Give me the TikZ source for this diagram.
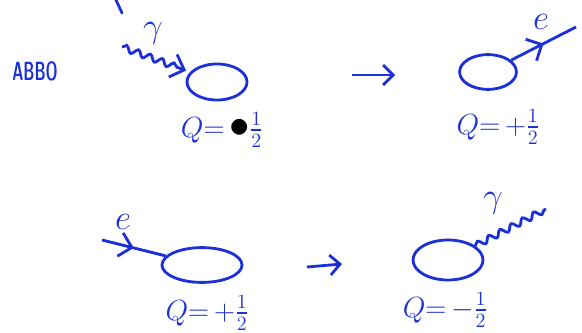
\documentclass[tikz,border=0pt]{standalone}
\usepackage{amsmath,amssymb}
\usepackage{xcolor}
\usetikzlibrary{arrows.meta,shapes.geometric,decorations.pathmorphing,decorations.markings}
\definecolor{pen}{RGB}{28,48,215}

\begin{document}
\begin{tikzpicture}[x=0.025cm, y=-0.025cm,
        blob/.style={draw=pen, ellipse, line width=2pt, inner sep=0pt},
        photon/.style={color=pen, line width=2pt, decorate,
                       decoration={snake, amplitude=2.2pt, segment length=9pt}},
        fermion/.style={color=pen, line width=2pt, postaction={decorate},
                        decoration={markings, mark=at position 0.5 with {\arrow{Straight Barb[length=3mm]}}}},
        goes/.style={color=pen, line width=2pt, -{Straight Barb[length=2.5mm]}},
        lbl/.style={text=pen, font=\huge, inner sep=1pt},
        tag/.style={text=pen, font=\Huge}
    ]
        \useasboundingbox (0,0) rectangle (582,333);

        % scribble in the corner
        \node[text=pen, font=\Large\sffamily\bfseries] (scrib) at (35,71) {\scalebox{0.75}[1.3]{ABBO}};
        \coordinate (t1) at (116,0);
        \coordinate (t2) at (122,13);
        \draw[color=pen, line width=2pt, line cap=round] (t1) -- (t2);

        % top row: photon absorbed
        \node[blob, minimum width=1.5cm, minimum height=0.9cm] (b1) at (217,82) {};
        \node[blob, minimum width=1.42cm, minimum height=0.87cm] (b2) at (488,72) {};
        \coordinate (g1) at (122,47);
        \coordinate (e1) at (576,27);
        \draw[photon, -{Straight Barb[length=3mm]}, decoration={post length=3mm}, shorten >=3pt] (g1) -- (b1);
        \node[tag] (g1l) at (153,33) {$\gamma$};
        \draw[fermion] (b2) -- (e1);
        \node[tag] (e1l) at (541,22) {$e$};
        \node[lbl] (q1) at (222,130) {$Q{=}\,{\color{black}\scalebox{1.4}{$\bullet$}}\tfrac{1}{2}$};
        \node[lbl] (q2) at (498,127) {$Q{=}\,{+}\tfrac{1}{2}$};
        \coordinate (a1) at (352,75);
        \coordinate (a2) at (395,75);
        \draw[goes] (a1) -- (a2);

        % bottom row: photon emitted
        \node[blob, minimum width=2.0cm, minimum height=0.87cm] (b3) at (202,265) {};
        \node[blob, minimum width=1.75cm, minimum height=1.0cm] (b4) at (448,260) {};
        \coordinate (e2) at (102,240);
        \coordinate (g2) at (546,209);
        \draw[fermion] (e2) -- (b3);
        \node[tag] (e2l) at (123,222) {$e$};
        \draw[photon] (b4) -- (g2);
        \node[tag] (g2l) at (493,203) {$\gamma$};
        \node[lbl] (q3) at (207,313) {$Q{=}\,{+}\tfrac{1}{2}$};
        \node[lbl] (q4) at (445,310) {$Q{=}\,{-}\tfrac{1}{2}$};
        \coordinate (a3) at (307,267);
        \coordinate (a4) at (342,264);
        \draw[goes] (a3) -- (a4);
    \end{tikzpicture}
\end{document}
